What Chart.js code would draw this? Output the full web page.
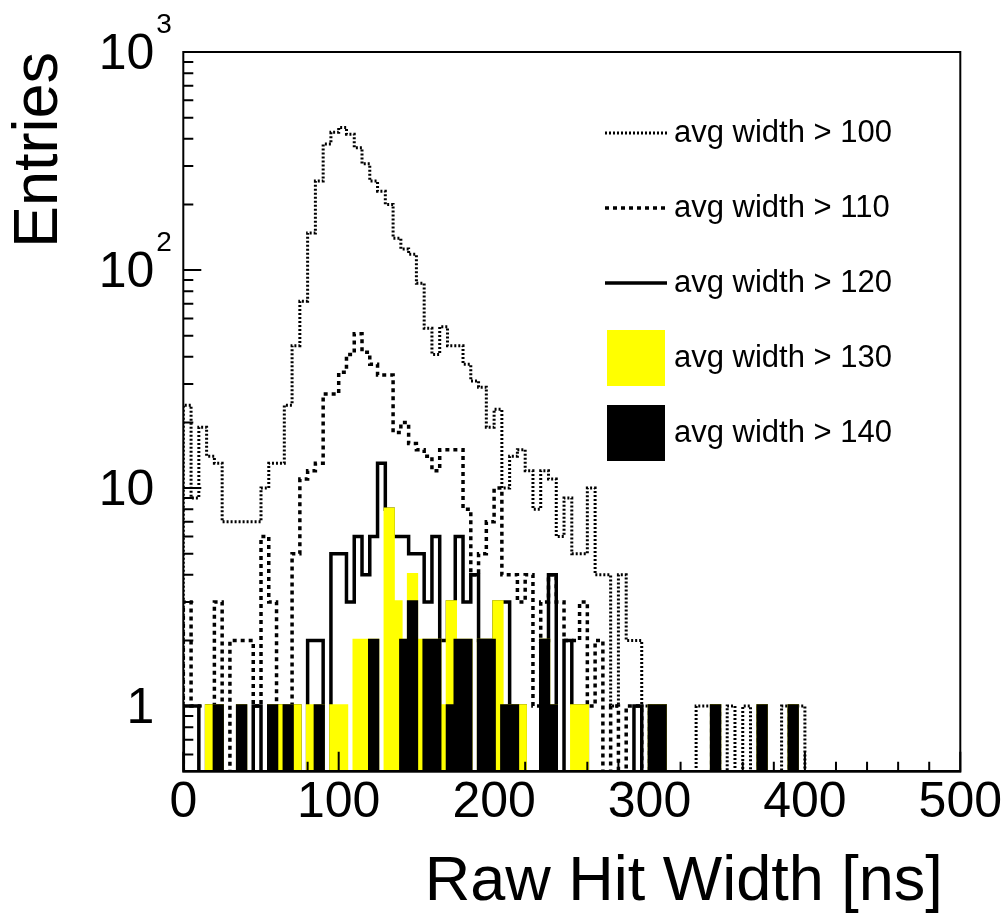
<!DOCTYPE html>
<html>
<head>
<meta charset="utf-8">
<title>Raw Hit Width</title>
<script src="https://cdn.jsdelivr.net/npm/chart.js@4.4.1/dist/chart.umd.min.js"></script>
<style>
  html, body { margin: 0; padding: 0; background: #ffffff; }
  #wrap { width: 1008px; height: 920px; position: relative; }
  canvas { display: block; }
</style>
</head>
<body>
<div id="wrap"><canvas id="c" width="1008" height="920"></canvas></div>
<script>
// ---------------- data ----------------
const binWidth = 5;            // ns per bin
const nBins = 100;             // 0 .. 500 ns
const binEdges = Array.from({ length: nBins + 1 }, (_, i) => i * binWidth);

// entries per bin, one array per cut on the average width
const cut100 = [24, 9, 19, 14, 13, 7, 7, 7, 7, 7,
  10, 13, 13, 24, 45, 72, 148, 256, 378, 428,
  451, 420, 364, 307, 256, 230, 200, 140, 125, 118,
  87, 54, 41, 55, 45, 45, 37, 31, 29, 19,
  23, 10, 14, 15, 12, 8, 12, 11, 6, 9,
  5, 5, 10, 4, 4, 1, 4, 2, 2, 1,
  1, 1, 0, 0, 0, 0, 1, 1, 1, 0,
  1, 0, 1, 0, 1, 0, 0, 1, 1, 1,
  0, 0, 0, 0, 0, 0, 0, 0, 0, 0,
  0, 0, 0, 0, 0, 0, 0, 0, 0, 0];

const cut110 = [3, 1, 1, 1, 3, 0, 2, 2, 2, 1,
  6, 3, 1, 1, 5, 11, 12, 13, 27, 27,
  34, 41, 51, 42, 37, 33, 33, 18, 20, 16,
  15, 14, 12, 15, 15, 15, 8, 4, 5, 7,
  10, 4, 4, 3, 4, 1, 3, 4, 3, 2,
  2, 3, 1, 2, 0, 1, 0, 1, 1, 0,
  1, 1, 0, 0, 0, 0, 0, 0, 1, 0,
  0, 0, 0, 0, 1, 0, 0, 0, 1, 0,
  0, 0, 0, 0, 0, 0, 0, 0, 0, 0,
  0, 0, 0, 0, 0, 0, 0, 0, 0, 0];

const cut120 = [1, 1, 0, 1, 1, 0, 0, 1, 0, 1,
  0, 1, 1, 1, 1, 0, 2, 2, 0, 5,
  5, 3, 6, 4, 6, 13, 8, 6, 6, 5,
  5, 3, 6, 2, 3, 6, 3, 4, 2, 2,
  3, 3, 1, 1, 0, 0, 2, 4, 0, 2,
  1, 1, 0, 0, 0, 0, 0, 0, 1, 0,
  1, 1, 0, 0, 0, 0, 0, 0, 1, 0,
  0, 0, 0, 0, 1, 0, 0, 0, 1, 0,
  0, 0, 0, 0, 0, 0, 0, 0, 0, 0,
  0, 0, 0, 0, 0, 0, 0, 0, 0, 0];

const cut130 = [0, 0, 0, 1, 1, 0, 0, 1, 0, 0,
  0, 1, 1, 1, 1, 0, 1, 1, 0, 1,
  1, 0, 2, 2, 2, 0, 8, 3, 2, 4,
  2, 2, 2, 1, 3, 2, 2, 0, 2, 2,
  3, 1, 1, 1, 0, 0, 2, 1, 0, 0,
  1, 1, 0, 0, 0, 0, 0, 0, 0, 0,
  1, 1, 0, 0, 0, 0, 0, 0, 1, 0,
  0, 0, 0, 0, 1, 0, 0, 0, 1, 0,
  0, 0, 0, 0, 0, 0, 0, 0, 0, 0,
  0, 0, 0, 0, 0, 0, 0, 0, 0, 0];

const cut140 = [0, 0, 0, 0, 1, 0, 0, 1, 0, 0,
  0, 1, 0, 1, 0, 0, 0, 1, 0, 0,
  0, 0, 0, 0, 2, 0, 0, 0, 2, 3,
  0, 2, 2, 0, 1, 2, 2, 0, 2, 2,
  0, 1, 1, 0, 0, 0, 2, 1, 0, 0,
  0, 0, 0, 0, 0, 0, 0, 0, 0, 0,
  1, 1, 0, 0, 0, 0, 0, 0, 1, 0,
  0, 0, 0, 0, 1, 0, 0, 0, 1, 0,
  0, 0, 0, 0, 0, 0, 0, 0, 0, 0,
  0, 0, 0, 0, 0, 0, 0, 0, 0, 0];

const legendLabels = ['avg width > 100', 'avg width > 110', 'avg width > 120', 'avg width > 130', 'avg width > 140'];
const xTickLabels = [0, 100, 200, 300, 400, 500];
const xMinorStep = 20;
const yMajorTicks = [1, 10, 100, 1000];
const yTickBase = ['1', '10', '10', '10'];
const yTickExp = ['', '', '2', '3'];
const xTitle = 'Raw Hit Width [ns]';
const yTitle = 'Entries';
const yMin = 0.5, yMax = 1000;

// ---------------- helpers ----------------
const FONT = "'Liberation Sans', Arial, Helvetica, sans-serif";

const yTickValues = [];
[0.1, 1, 10, 100].forEach(d => {
  for (let m = 1; m <= 9; m++) {
    const v = parseFloat((m * d).toPrecision(6));
    if (v > yMin && v <= yMax) yTickValues.push(v);
  }
});
yTickValues.push(yMax);

function histPoints(counts) {
  const pts = [{ x: binEdges[0], y: yMin }];
  counts.forEach((c, i) => {
    const v = c > 0 ? c : yMin;
    pts.push({ x: binEdges[i], y: v }, { x: binEdges[i + 1], y: v });
  });
  pts.push({ x: binEdges[binEdges.length - 1], y: yMin });
  return pts;
}

const common = {
  pointRadius: 0, pointHoverRadius: 0, tension: 0, clip: 0,
  borderJoinStyle: 'miter', borderCapStyle: 'butt'
};

const yLabelPad = 29;

const rootFrame = {
  id: 'rootFrame',
  afterDraw(chart) {
    const { ctx, chartArea: a } = chart;
    const xs = chart.scales.x, ys = chart.scales.y;
    ctx.save();
    ctx.strokeStyle = '#000';
    ctx.lineWidth = 2;
    ctx.setLineDash([]);
    ctx.beginPath();
    ys.ticks.forEach(t => {
      const py = ys.getPixelForValue(t.value);
      const len = yMajorTicks.includes(t.value) ? 18 : 10;
      ctx.moveTo(a.left, py); ctx.lineTo(a.left + len, py);
    });
    for (let v = xs.min; v <= xs.max; v += xMinorStep) {
      const px = xs.getPixelForValue(v);
      const len = xTickLabels.includes(v) ? 20 : 10;
      ctx.moveTo(px, a.bottom); ctx.lineTo(px, a.bottom - len);
    }
    ctx.stroke();
    ctx.strokeRect(a.left, a.top, a.right - a.left, a.bottom - a.top);

    // exponents of the y tick labels
    ctx.fillStyle = '#000';
    ctx.font = '28px ' + FONT;
    ctx.textAlign = 'left';
    ctx.textBaseline = 'alphabetic';
    yMajorTicks.forEach((v, i) => {
      if (!yTickExp[i]) return;
      const py = ys.getPixelForValue(v);
      ctx.fillText(yTickExp[i], a.left - yLabelPad + 2, py - 19);
    });

    // legend
    const legendTop = 133, legendStep = 75, legendX = 605, sampleW = 62, textX = 674;
    chart.data.datasets.forEach((ds, i) => {
      const cy = legendTop + i * legendStep;
      if (ds.fill) {
        ctx.fillStyle = ds.backgroundColor;
        ctx.fillRect(legendX + 2, cy - 28, sampleW - 4, 56);
      } else {
        ctx.strokeStyle = ds.borderColor;
        ctx.lineWidth = ds.borderWidth;
        ctx.setLineDash(ds.borderDash || []);
        ctx.beginPath();
        ctx.moveTo(legendX, cy); ctx.lineTo(legendX + sampleW, cy);
        ctx.stroke();
        ctx.setLineDash([]);
      }
      ctx.fillStyle = '#000';
      ctx.font = '31px ' + FONT;
      ctx.textAlign = 'left';
      ctx.textBaseline = 'middle';
      ctx.fillText(ds.label, textX, cy);
    });
    ctx.restore();
  }
};

new Chart(document.getElementById('c'), {
  type: 'line',
  data: {
    datasets: [
      Object.assign({ label: legendLabels[0], data: histPoints(cut100), borderColor: '#000000', borderWidth: 3, borderDash: [2, 2], fill: false, order: 5 }, common),
      Object.assign({ label: legendLabels[1], data: histPoints(cut110), borderColor: '#000000', borderWidth: 3.5, borderDash: [4, 4], fill: false, order: 4 }, common),
      Object.assign({ label: legendLabels[2], data: histPoints(cut120), borderColor: '#000000', borderWidth: 3.5, fill: false, order: 3 }, common),
      Object.assign({ label: legendLabels[3], data: histPoints(cut130), borderColor: '#ffff00', backgroundColor: '#ffff00', borderWidth: 3.5, fill: 'start', order: 2 }, common),
      Object.assign({ label: legendLabels[4], data: histPoints(cut140), borderColor: '#000000', backgroundColor: '#000000', borderWidth: 3.5, fill: 'start', order: 1 }, common)
    ]
  },
  options: {
    responsive: false,
    maintainAspectRatio: false,
    animation: false,
    devicePixelRatio: 1,
    layout: { padding: { top: 52, right: 47.7, bottom: 0, left: 0 } },
    plugins: { legend: { display: false }, tooltip: { enabled: false } },
    scales: {
      x: {
        type: 'linear', min: 0, max: 500,
        afterBuildTicks: s => { s.ticks = xTickLabels.map(v => ({ value: v })); },
        afterFit: s => { s.height = 148.3; },
        grid: { display: false, drawTicks: false },
        border: { display: false },
        ticks: { color: '#000', font: { family: FONT, size: 50 }, padding: 2, maxRotation: 0, autoSkip: false, callback: v => String(v) },
        title: { display: true, text: xTitle + ' ', align: 'end', color: '#000', font: { family: FONT, size: 63 }, padding: { top: 0, bottom: 0 } }
      },
      y: {
        type: 'logarithmic', min: yMin, max: yMax,
        afterBuildTicks: s => { s.ticks = yTickValues.map(v => ({ value: v })); },
        afterFit: s => { s.width = 183.3; s.paddingTop = 0; s.paddingBottom = 0; },
        grid: { display: false, drawTicks: false },
        border: { display: false },
        ticks: {
          color: '#000', font: { family: FONT, size: 50 }, padding: yLabelPad, labelOffset: 3.5, autoSkip: false,
          callback: v => { const i = yMajorTicks.indexOf(v); return i >= 0 ? yTickBase[i] : ''; }
        },
        title: { display: true, text: yTitle, align: 'end', color: '#000', font: { family: FONT, size: 63 }, padding: { top: 2, bottom: 0 } }
      }
    }
  },
  plugins: [rootFrame]
});
</script>
</body>
</html>
